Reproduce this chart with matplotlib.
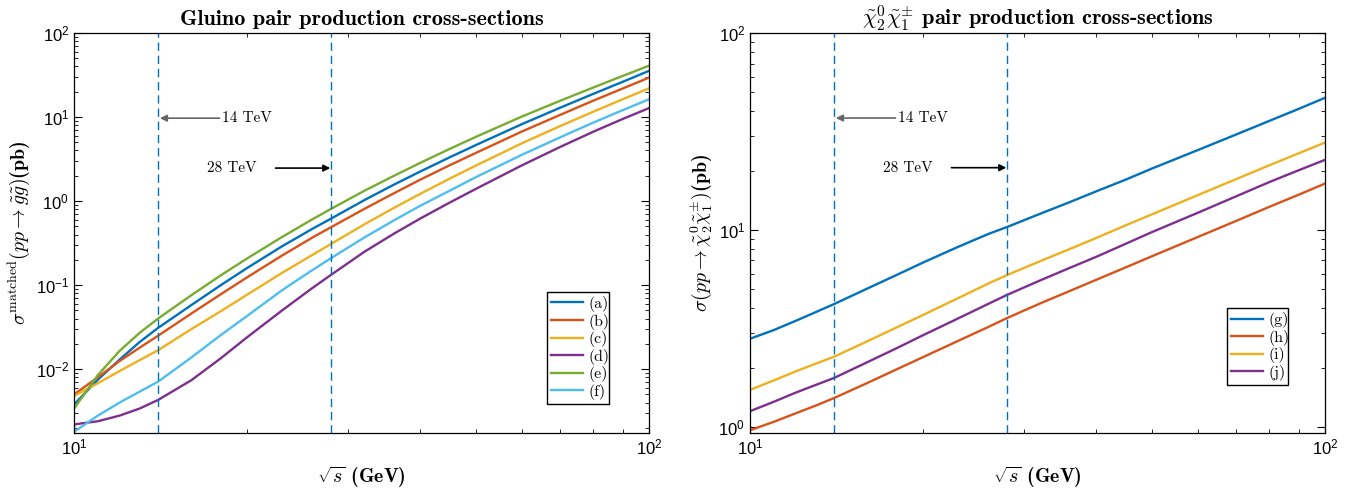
import numpy as np
import matplotlib
matplotlib.use('Agg')
import matplotlib.pyplot as plt
from matplotlib.ticker import NullFormatter

# sqrt(s) sample points
sqrt_s = [10, 11, 12, 13, 14, 16, 18, 20, 23, 26, 28, 32, 36, 40, 45, 50, 60, 70, 80, 90, 100]

# Gluino pair production (pb)
gluino_a = [0.0038, 0.0075, 0.013, 0.021, 0.031, 0.058, 0.10, 0.16, 0.29, 0.47, 0.62,
            1.03, 1.57, 2.25, 3.32, 4.65, 8.2, 12.9, 18.9, 26.3, 35.5]
gluino_b = [0.0050, 0.0080, 0.0125, 0.018, 0.025, 0.046, 0.078, 0.124, 0.225, 0.37, 0.49,
            0.81, 1.24, 1.8, 2.67, 3.75, 6.7, 10.6, 15.7, 21.9, 29.5]
gluino_c = [0.0048, 0.0068, 0.0095, 0.0128, 0.0168, 0.030, 0.049, 0.077, 0.14, 0.23, 0.31,
            0.53, 0.83, 1.22, 1.85, 2.65, 4.85, 7.8, 11.6, 16.3, 22.0]
gluino_d = [0.0022, 0.0024, 0.0028, 0.0034, 0.0043, 0.0074, 0.0135, 0.024, 0.050, 0.093, 0.133,
            0.25, 0.41, 0.62, 0.96, 1.4, 2.65, 4.4, 6.7, 9.5, 12.8]
gluino_e = [0.0034, 0.0085, 0.0165, 0.027, 0.040, 0.076, 0.131, 0.208, 0.374, 0.61, 0.81,
            1.33, 2.0, 2.85, 4.18, 5.82, 10.1, 15.6, 22.5, 30.9, 40.9]
gluino_f = [0.0018, 0.0028, 0.0040, 0.0054, 0.0071, 0.0138, 0.0255, 0.043, 0.087, 0.152, 0.21,
            0.37, 0.59, 0.88, 1.33, 1.93, 3.54, 5.73, 8.6, 12.1, 16.3]

# chi2^0 chi1^+- pair production (pb)
chi_g = [2.8, 3.1, 3.45, 3.82, 4.2, 5.04, 5.91, 6.83, 8.2, 9.55, 10.35,
         12.1, 13.85, 15.7, 18.0, 20.5, 25.4, 30.5, 35.8, 41.2, 46.9]
chi_h = [0.96, 1.06, 1.17, 1.28, 1.40, 1.67, 1.96, 2.26, 2.73, 3.22, 3.57,
         4.24, 4.9, 5.58, 6.45, 7.35, 9.19, 11.1, 13.1, 15.1, 17.2]
chi_i = [1.54, 1.72, 1.91, 2.09, 2.27, 2.72, 3.2, 3.7, 4.5, 5.35, 5.9,
         6.95, 8.0, 9.1, 10.55, 12.0, 15.0, 18.1, 21.3, 24.5, 27.8]
chi_j = [1.2, 1.34, 1.49, 1.63, 1.77, 2.13, 2.51, 2.92, 3.55, 4.22, 4.68,
         5.55, 6.42, 7.3, 8.5, 9.75, 12.2, 14.8, 17.5, 20.1, 22.7]

gluino_labels = ['(a)', '(b)', '(c)', '(d)', '(e)', '(f)']
chi_labels = ['(g)', '(h)', '(i)', '(j)']
energies = [14, 28]

COLORS = ['#0072BD', '#D95319', '#EDB120', '#7E2F8E', '#77AC30', '#4DBEEE']

plt.rcParams['font.family'] = 'Liberation Sans'
plt.rcParams['mathtext.fontset'] = 'cm'

fig = plt.figure(figsize=(13.64, 4.95), dpi=100)
ax1 = fig.add_axes([0.0543, 0.1253, 0.4216, 0.808])
ax2 = fig.add_axes([0.5499, 0.1253, 0.4216, 0.808])


def style_axes(ax):
    ax.set_xscale('log')
    ax.set_yscale('log')
    ax.set_xlim(10, 100)
    ax.xaxis.set_minor_formatter(NullFormatter())
    ax.yaxis.set_minor_formatter(NullFormatter())
    ax.tick_params(which='both', direction='in', top=True, right=True, labelsize=12)
    ax.tick_params(which='major', length=5.5, width=0.8)
    ax.tick_params(which='minor', length=3, width=0.6)
    for sp in ax.spines.values():
        sp.set_linewidth(0.9)
    ax.set_xlabel(r'$\sqrt{s}$ (GeV)', family='cmb10', fontsize=14.3, labelpad=5)


def add_arrows(ax, y14, y28):
    ax.annotate('', xy=(14.1, y14), xytext=(17.9, y14),
                arrowprops=dict(arrowstyle='-|>', color='0.4', lw=1.2, shrinkA=0, shrinkB=0))
    ax.text(18.1, y14, '14 TeV', family='cmr10', fontsize=11, va='center', ha='left')
    ax.annotate('', xy=(27.9, y28), xytext=(22.4, y28),
                arrowprops=dict(arrowstyle='-|>', color='k', lw=1.2, shrinkA=0, shrinkB=0))
    ax.text(20.8, y28, '28 TeV', family='cmr10', fontsize=11, va='center', ha='right')


LEGEND_KW = dict(loc='lower left', mode='expand', prop={'family': 'cmr10', 'size': 11.5},
                 frameon=True, fancybox=False, edgecolor='k', framealpha=1,
                 handlelength=2.0, handletextpad=0.3, borderaxespad=0,
                 labelspacing=0.1, borderpad=0.25)

# Left panel
style_axes(ax1)
for vals, lab, col in zip([gluino_a, gluino_b, gluino_c, gluino_d, gluino_e, gluino_f],
                          gluino_labels, COLORS):
    ax1.plot(sqrt_s, vals, color=col, lw=1.7, label=lab)
ax1.set_ylim(0.00174, 100)
for e in energies:
    ax1.axvline(e, color='#0072BD', lw=1, dashes=(6, 3.5))
add_arrows(ax1, 9.7, 2.47)
ax1.set_title('Gluino pair production cross-sections', family='cmb10', fontsize=16, pad=6)
ax1.set_ylabel(r'$\sigma^{\mathrm{matched}}(pp\rightarrow\tilde{g}\tilde{g})$(pb)',
               family='cmb10', fontsize=14.3, labelpad=3)
ax1.legend(bbox_to_anchor=(0.823, 0.0725, 0.107, 0.2975), **LEGEND_KW)

# Right panel
style_axes(ax2)
for vals, lab, col in zip([chi_g, chi_h, chi_i, chi_j], chi_labels, COLORS[:4]):
    ax2.plot(sqrt_s, vals, color=col, lw=1.7, label=lab)
ax2.set_ylim(0.93, 100)
for e in energies:
    ax2.axvline(e, color='#0072BD', lw=1, dashes=(6, 3.5))
add_arrows(ax2, 37, 20.7)
ax2.set_title(r'$\tilde{\chi}_2^0\tilde{\chi}_1^{\pm}$ pair production cross-sections',
              family='cmb10', fontsize=16, pad=6)
ax2.set_ylabel(r'$\sigma(pp\rightarrow\tilde{\chi}_2^0\tilde{\chi}_1^{\pm})$(pb)',
               family='cmb10', fontsize=14.3, labelpad=3)
ax2.legend(bbox_to_anchor=(0.83, 0.12, 0.106, 0.2175), **LEGEND_KW)

fig.savefig('out.png', dpi=100)
